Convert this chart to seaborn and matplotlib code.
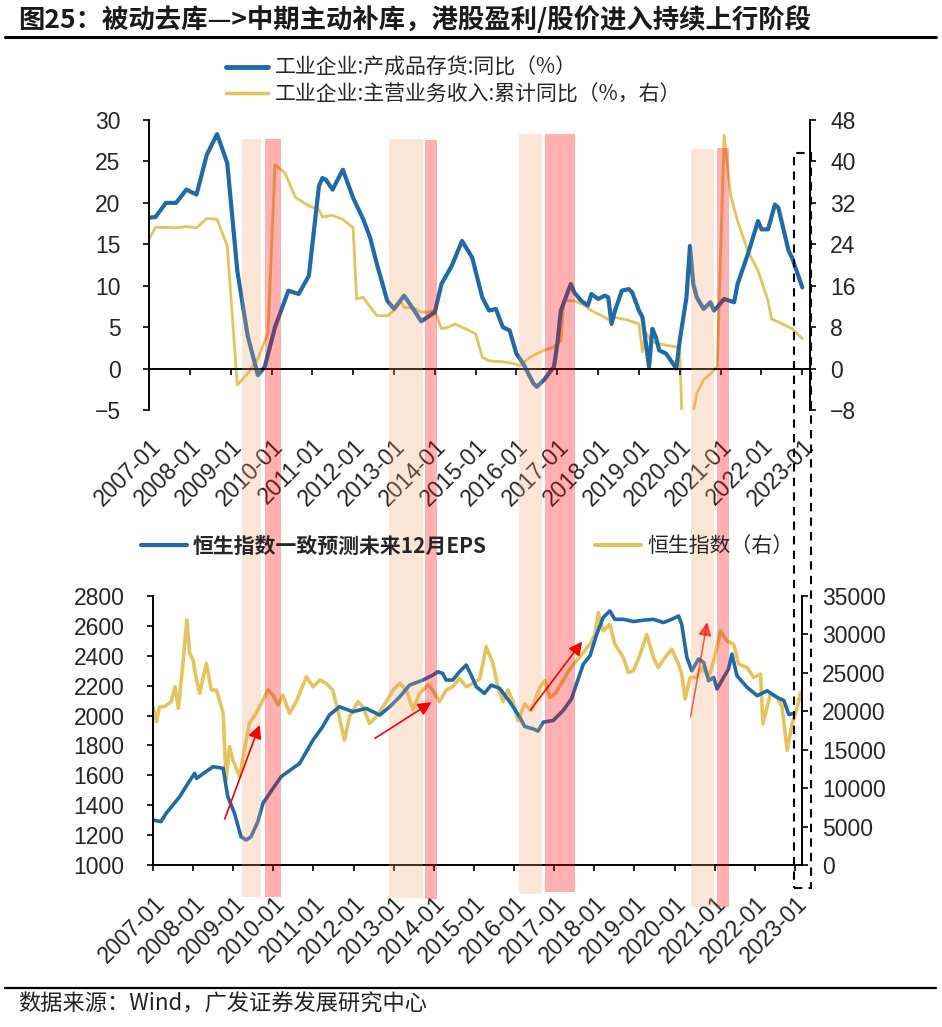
import matplotlib
matplotlib.use('Agg')
import matplotlib.pyplot as plt
import matplotlib.dates as mdates
import matplotlib.transforms as mtransforms
from matplotlib.patches import Rectangle, FancyArrowPatch
from matplotlib.lines import Line2D
from matplotlib.font_manager import FontProperties
import seaborn as sns
import pandas as pd

sns.set_style('ticks')
plt.rcParams['font.family'] = ['Liberation Sans', 'Noto Sans CJK SC', 'DejaVu Sans']
cjk = ['Noto Sans CJK SC', 'DejaVu Sans']

BLUE = '#1f6aa8'
GOLD = '#e6c35c'

# ---- top panel: industrial inventory / revenue ----
inv_dates = ['2007-01','2007-03','2007-06','2007-09','2007-12','2008-03','2008-06','2008-09','2008-12',
             '2009-03','2009-06','2009-09','2009-11','2010-02','2010-06','2010-09','2010-12','2011-03',
             '2011-04','2011-05','2011-07','2011-10','2012-01','2012-04','2012-06','2012-08','2012-11',
             '2013-01','2013-04','2013-07','2013-09','2014-01','2014-03','2014-06','2014-09','2014-12',
             '2015-03','2015-05','2015-07','2015-09','2015-11','2016-01','2016-03','2016-06','2016-07',
             '2016-09','2016-12','2017-01','2017-02','2017-05','2017-06','2017-08','2017-10','2017-11',
             '2018-01','2018-03','2018-04','2018-05','2018-06','2018-08','2018-10','2018-11','2019-01',
             '2019-02','2019-04','2019-05','2019-06','2019-07','2019-09','2019-12','2020-01','2020-03',
             '2020-04','2020-05','2020-06','2020-08','2020-10','2020-11','2020-12','2021-02','2021-05',
             '2021-06','2021-09','2021-12','2022-01','2022-03','2022-05','2022-06','2022-09','2022-10',
             '2023-01']
inv_vals = [18.2,18.3,20.0,20.0,21.6,21.0,25.8,28.3,24.8,11.8,4.0,-0.8,0.2,5.0,9.4,9.0,11.2,22.0,23.0,22.8,
            21.6,24.0,20.6,18.0,15.8,12.6,8.2,7.2,8.8,7.0,5.7,6.8,10.2,12.4,15.4,13.4,8.6,7.0,7.2,5.0,
            4.6,1.8,0.6,-1.8,-2.2,-1.4,0.2,3.0,7.0,10.2,9.2,8.2,7.6,9.0,8.4,8.8,8.6,5.4,7.0,9.4,
            9.6,9.2,7.0,6.2,0.2,4.8,3.8,2.2,1.8,0.0,3.4,8.6,14.8,10.2,8.6,7.2,8.0,7.0,7.4,8.4,
            8.0,10.2,13.8,17.8,16.8,16.8,19.8,19.4,14.2,13.4,9.8]

rev_dates = ['2007-01','2007-03','2007-09','2007-12','2008-03','2008-06','2008-09','2008-12','2009-03',
             '2009-06','2009-09','2009-12','2010-02','2010-05','2010-08','2010-12','2011-03','2011-04',
             '2011-07','2011-10','2012-01','2012-02','2012-04','2012-05','2012-08','2012-11','2013-01',
             '2013-03','2013-04','2013-07','2013-09','2013-11','2014-01','2014-03','2014-05','2014-07',
             '2014-10','2015-01','2015-03','2015-05','2015-09','2015-12','2016-02','2016-05','2016-09',
             '2016-12','2017-02','2017-03','2017-06','2017-09','2017-11','2018-03','2018-05','2018-06',
             '2018-10','2019-01','2019-02','2019-03','2019-05','2019-09','2019-12','2020-01','2020-02',
             '2020-03','2020-04','2020-05','2020-06','2020-08','2020-10','2020-12','2021-02','2021-04',
             '2021-06','2021-09','2021-12','2022-03','2022-04','2022-06','2022-10','2023-01']
rev_vals = [25.0,27.3,27.2,27.4,27.2,29.0,28.8,23.7,-3.2,-1.0,1.9,7.0,39.4,37.8,33.1,31.4,30.7,29.3,29.6,28.8,
            27.2,13.4,13.8,12.8,10.2,10.2,11.2,13.0,11.8,11.7,10.9,10.9,11.2,7.7,8.0,8.6,7.7,6.7,2.2,1.5,
            1.3,1.0,0.6,2.2,3.5,4.2,5.4,13.1,13.1,12.2,11.2,9.9,9.0,9.9,9.3,8.6,3.2,7.0,5.1,4.5,
            4.2,3.5,-17.7,-15.1,-11.5,-8.3,-4.8,-2.2,-1.0,0.4,45.1,33.3,28.5,22.7,18.9,13.1,9.6,9.0,7.7,5.8]

# ---- bottom panel: HSI forward EPS / HSI ----
eps_dates = ['2007-01-01','2007-03-15','2007-05-01','2007-09-01','2007-11-15','2008-01-15','2008-02-01',
             '2008-07-01','2008-10-01','2008-10-20','2008-11-12','2009-01-12','2009-03-12','2009-04-28',
             '2009-06-12','2009-08-12','2009-09-28','2009-11-28','2010-03-12','2010-08-28','2010-12-28',
             '2011-03-25','2011-05-25','2011-08-25','2011-12-25','2012-04-25','2012-08-25','2012-11-25',
             '2013-02-25','2013-05-25','2013-09-25','2013-12-22','2014-02-06','2014-03-22','2014-04-22',
             '2014-06-22','2014-08-22','2014-10-22','2014-12-06','2015-01-22','2015-04-06','2015-06-06',
             '2015-08-22','2015-11-22','2016-02-22','2016-04-06','2016-06-22','2016-08-06','2016-09-22',
             '2016-12-22','2017-03-22','2017-06-06','2017-07-22','2017-09-22','2017-11-22','2018-01-22',
             '2018-03-22','2018-05-22','2018-07-06','2018-09-22','2018-12-22','2019-03-22','2019-06-22',
             '2019-09-22','2019-12-06','2020-02-06','2020-03-06','2020-04-22','2020-06-06','2020-08-06',
             '2020-09-22','2020-11-06','2020-12-22','2021-01-22','2021-03-22','2021-05-06','2021-06-06',
             '2021-07-22','2021-10-22','2022-01-22','2022-04-22','2022-07-22','2022-09-22','2022-11-06',
             '2022-12-22']
eps_vals = [1301,1290,1346,1457,1546,1613,1580,1658,1647,1557,1457,1346,1190,1167,1190,1290,1413,1480,1591,1680,
            1836,1925,2003,2059,2026,2048,2003,2059,2126,2204,2238,2271,2293,2282,2238,2238,2293,2338,2271,2193,
            2148,2204,2182,2093,1989,1927,1911,1896,1956,1967,2033,2111,2211,2344,2400,2544,2656,2700,2644,2644,
            2629,2638,2644,2622,2644,2666,2611,2389,2300,2378,2355,2233,2255,2178,2255,2311,2411,2266,2189,2133,
            2166,2122,2100,2007,2015]

hsi_dates = ['2007-01-01','2007-02-01','2007-03-01','2007-04-15','2007-06-15','2007-07-20','2007-08-20',
             '2007-10-01','2007-11-05','2007-12-01','2008-01-01','2008-02-01','2008-03-01','2008-05-01',
             '2008-06-15','2008-08-01','2008-10-01','2008-10-27','2008-11-28','2008-12-28','2009-02-28',
             '2009-04-12','2009-05-28','2009-07-28','2009-09-28','2009-11-12','2009-12-28','2010-02-12',
             '2010-03-28','2010-05-28','2010-07-28','2010-10-28','2010-12-28','2011-02-28','2011-04-25',
             '2011-06-25','2011-08-10','2011-10-10','2011-11-25','2012-02-10','2012-03-25','2012-05-25',
             '2012-07-25','2012-10-25','2012-12-25','2013-02-25','2013-04-25','2013-06-25','2013-08-25',
             '2013-11-10','2013-12-22','2014-02-22','2014-04-22','2014-06-22','2014-08-22','2014-10-22',
             '2014-12-22','2015-02-22','2015-04-22','2015-06-22','2015-08-06','2015-09-22','2015-11-06',
             '2015-12-22','2016-02-06','2016-04-06','2016-06-06','2016-08-22','2016-10-06','2016-11-22',
             '2017-01-06','2017-03-22','2017-05-22','2017-07-22','2017-09-22','2017-11-22','2018-01-06',
             '2018-02-06','2018-03-22','2018-05-22','2018-07-06','2018-09-22','2018-11-06','2018-12-22',
             '2019-02-22','2019-04-22','2019-06-22','2019-08-06','2019-10-06','2019-12-06','2020-02-06',
             '2020-03-06','2020-04-06','2020-05-22','2020-07-22','2020-09-06','2020-11-06','2020-12-22',
             '2021-02-22','2021-04-22','2021-06-22','2021-08-06','2021-10-22','2021-12-22','2022-02-22',
             '2022-03-15','2022-05-22','2022-07-22','2022-09-06','2022-10-22','2022-12-06','2023-01-22',
             '2023-02-22','2023-03-22']
hsi_vals = [20600,18650,20600,20600,21250,23200,20400,26240,31880,27540,
            26670,24070,22340,26240,22770,22770,19730,11060,15400,13660,
            11490,14960,18430,19730,21470,22770,22120,20820,22120,19730,
            21250,24500,23200,24070,23640,22770,20170,16260,19300,21250,
            20600,18430,19300,21250,22770,23640,22770,20170,22340,23420,
            22770,21250,22770,23200,24290,23200,23640,24200,28400,26240,
            23200,21250,22770,21250,18790,20950,20090,23110,23980,21820,
            22250,23980,25490,26570,27650,28730,30020,32830,30460,31320,
            28730,27000,25060,25270,27430,30020,27000,25700,27000,28080,
            26140,24840,21600,24400,24400,25700,24400,26570,30460,29160,
            28730,26140,25700,24400,24840,18360,22250,21820,20520,14900,
            18360,20520,22460,20520]

# inventory-cycle phases (passive destocking -> active restocking)
band_start = ['2009-04-12','2009-11-07','2012-11-17','2013-10-03','2016-01-25','2016-09-15','2020-04-10','2020-11-29']
band_end = ['2009-09-26','2010-03-30','2013-09-13','2014-01-16','2016-08-13','2017-06-10','2020-10-31','2021-03-14']
band_phase = ['passive','active','passive','active','passive','active','passive','active']

arrow_start_dates = ['2008-10-15','2012-07-14','2016-05-29','2020-05-26']
arrow_start_vals = [1308,1848,2037,1993]
arrow_end_dates = ['2009-08-28','2013-12-10','2017-09-12','2020-10-24']
arrow_end_vals = [1937,2089,2495,2625]

# ---- layout helpers (image pixels -> figure fraction) ----
W, H = 942, 1027
fig = plt.figure(figsize=(W / 100, H / 100), dpi=100)

def fx(px):
    return px / W

def fy(py):
    return 1 - py / H

TICK_FS = 16.5

def style_axes(ax, axr):
    ax.set_zorder(axr.get_zorder() + 1)
    ax.patch.set_visible(False)
    for s in ['top', 'right']:
        ax.spines[s].set_visible(False)
    for s in ['top', 'left', 'bottom']:
        axr.spines[s].set_visible(False)
    for sp in [ax.spines['left'], ax.spines['bottom'], axr.spines['right']]:
        sp.set_linewidth(1.4)
        sp.set_color('black')
    ax.set_xlabel('')
    ax.set_ylabel('')
    axr.set_ylabel('')
    ax.xaxis.set_major_locator(mdates.YearLocator())
    ax.xaxis.set_major_formatter(mdates.DateFormatter('%Y-%m'))
    ax.tick_params(axis='y', direction='out', length=4.5, width=1.4, labelsize=TICK_FS, pad=16)
    axr.tick_params(axis='y', direction='out', length=4.5, width=1.4, labelsize=TICK_FS, pad=10)


# top panel
ax1 = fig.add_axes([fx(149), fy(410), fx(810) - fx(149), fy(120) - fy(410)])
ax1r = ax1.twinx()
sns.lineplot(x=pd.to_datetime(inv_dates), y=inv_vals, ax=ax1, color=BLUE, linewidth=3.0)
sns.lineplot(x=pd.to_datetime(rev_dates), y=rev_vals, ax=ax1r, color=GOLD, linewidth=2.0)
ax1.set_xlim(pd.Timestamp('2007-01-01'), pd.Timestamp('2023-03-11'))
ax1.set_ylim(-5, 30)
ax1.set_yticks(range(-5, 31, 5))
ax1r.set_ylim(-8, 48)
ax1r.set_yticks(range(-8, 49, 8))
style_axes(ax1, ax1r)
ax1.spines['bottom'].set_position(('data', 0))
ax1.tick_params(axis='x', direction='out', length=4.5, width=1.4, labelsize=TICK_FS, pad=43, labelrotation=45)
for lab in ax1.get_xticklabels():
    lab.set_ha('right')
    lab.set_rotation_mode('anchor')

# bottom panel
ax2 = fig.add_axes([fx(153), fy(865), fx(802) - fx(153), fy(596) - fy(865)])
ax2r = ax2.twinx()
sns.lineplot(x=pd.to_datetime(eps_dates), y=eps_vals, ax=ax2, color=BLUE, linewidth=2.6)
sns.lineplot(x=pd.to_datetime(hsi_dates), y=hsi_vals, ax=ax2r, color=GOLD, linewidth=2.6)
ax2.set_xlim(pd.Timestamp('2007-01-01'), pd.Timestamp('2023-03-06'))
ax2.set_ylim(1000, 2800)
ax2.set_yticks(range(1000, 2801, 200))
ax2r.set_ylim(0, 35000)
ax2r.set_yticks(range(0, 35001, 5000))
style_axes(ax2, ax2r)
ax2.tick_params(axis='x', direction='out', length=4.5, width=1.4, labelsize=TICK_FS, pad=15, labelrotation=45)
for lab in ax2.get_xticklabels():
    lab.set_ha('right')
    lab.set_rotation_mode('anchor')

# shaded cycle phases across both panels
band_color = {'passive': ('#f4a46e', 0.28), 'active': ('#ff0000', 0.31)}
band_top = [139, 139, 139, 140, 134, 134, 149, 148]
band_bottom = [897, 897, 898, 899, 894, 892, 907, 907]
trans = mtransforms.blended_transform_factory(ax1.transData, fig.transFigure)
for s, e, ph, t, b in zip(band_start, band_end, band_phase, band_top, band_bottom):
    x0 = mdates.date2num(pd.Timestamp(s))
    x1 = mdates.date2num(pd.Timestamp(e))
    col, a = band_color[ph]
    fig.add_artist(Rectangle((x0, fy(b)), x1 - x0, fy(t) - fy(b), transform=trans,
                             facecolor=col, alpha=a, edgecolor='none', zorder=5))

# red arrows in the bottom panel
arrow_alpha = [1.0, 1.0, 1.0, 0.6]
for sd, sv, ed, ev, a in zip(arrow_start_dates, arrow_start_vals, arrow_end_dates, arrow_end_vals, arrow_alpha):
    p0 = (mdates.date2num(pd.Timestamp(sd)), sv)
    p1 = (mdates.date2num(pd.Timestamp(ed)), ev)
    fig.add_artist(FancyArrowPatch(p0, p1, transform=ax2.transData, arrowstyle='-|>',
                                   mutation_scale=20, color='red', lw=1.2, alpha=a,
                                   shrinkA=0, shrinkB=0, zorder=6))

# dashed highlight box around latest data
fig.add_artist(Rectangle((fx(794), fy(888)), fx(810.7) - fx(794), fy(153) - fy(888),
                         transform=fig.transFigure, fill=False, edgecolor='black',
                         linewidth=1.5, linestyle=(0, (4, 3)), zorder=7))

# legends
leg_font = FontProperties(family=cjk, size=15)
leg1 = fig.legend([Line2D([], [], color=BLUE, lw=3.5), Line2D([], [], color=GOLD, lw=2.5)],
                  ['工业企业:产成品存货:同比（%）', '工业企业:主营业务收入:累计同比（%，右）'],
                  loc='upper left', bbox_to_anchor=(fx(226), fy(57)), frameon=False, prop=leg_font,
                  handlelength=2.0, handletextpad=0.35, borderpad=0, borderaxespad=0, labelspacing=0.2)
leg2 = fig.legend([Line2D([], [], color=BLUE, lw=3)], ['恒生指数一致预测未来12月EPS'],
                  loc='center left', bbox_to_anchor=(fx(141), fy(546)), frameon=False,
                  prop=FontProperties(family=cjk, size=15, weight='bold'),
                  handlelength=2.2, handletextpad=0.3, borderpad=0, borderaxespad=0)
leg3 = fig.legend([Line2D([], [], color=GOLD, lw=3)], ['恒生指数（右）'],
                  loc='center left', bbox_to_anchor=(fx(595), fy(546)), frameon=False, prop=leg_font,
                  handlelength=2.2, handletextpad=0.3, borderpad=0, borderaxespad=0)

# title, rules, source
fig.text(fx(18), fy(20), '图25：被动去库—>中期主动补库，港股盈利/股价进入持续上行阶段',
         fontsize=19, fontweight='bold', family=cjk, va='center', ha='left', color='#1a1a1a')
fig.add_artist(Line2D([fx(5), fx(936)], [fy(37), fy(37)], color='black', lw=2.2))
fig.add_artist(Line2D([fx(5), fx(936)], [fy(988), fy(988)], color='black', lw=1.6))
fig.text(fx(18), fy(1004), '数据来源：Wind，广发证券发展研究中心', fontsize=16, family=cjk,
         va='center', ha='left', color='#222222')

fig.savefig('out.png', dpi=100)
